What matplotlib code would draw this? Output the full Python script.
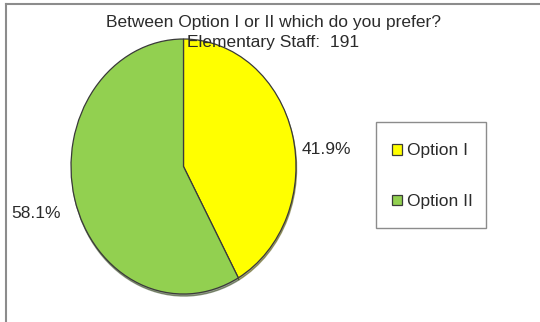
import matplotlib
matplotlib.use("Agg")
import matplotlib.pyplot as plt
from matplotlib.lines import Line2D
from matplotlib.patches import Rectangle

plt.rcParams["font.family"] = ["Liberation Sans", "DejaVu Sans"]

TITLE_LINES = ["Between Option I or II which do you prefer?",
               "Elementary Staff:  191"]
labels = ["Option I", "Option II"]
shares = [41.9, 58.1]
colors = ["#FFFF00", "#92D050"]
TEXT = "#2b2b2b"
FS = 12.5
W, H = 540, 322

fig = plt.figure(figsize=(W / 100, H / 100), dpi=100)
fig.patch.set_facecolor("white")

# pie sits in its own axes, stretched a little taller than wide
ax = fig.add_axes([71 / W, 1 - 294 / H, 225 / W, 255 / H])
wedges, texts, autotexts = ax.pie(
    shares, colors=colors, startangle=90, counterclock=False,
    autopct="%.1f%%", pctdistance=1.3,
    wedgeprops=dict(edgecolor="#3a3a3a", linewidth=0.9),
    textprops=dict(fontsize=FS, color=TEXT),
    shadow=dict(ox=0.004, oy=-0.012, shade=0.7),
)
autotexts[0].set_position((1.27, 0.13))
autotexts[1].set_position((-1.31, -0.37))
ax.set_xlim(-1, 1)
ax.set_ylim(-1, 1)
ax.set_aspect("auto")
ax.axis("off")

for line, y in zip(TITLE_LINES, [22, 43]):
    fig.text(273 / W, 1 - y / H, line, ha="center", va="center",
             fontsize=FS, color=TEXT)

# legend entries without frame, box drawn separately
leg = fig.legend(wedges, labels, loc="upper left",
                 bbox_to_anchor=(392 / W, 1 - 143.5 / H),
                 fontsize=FS, frameon=False,
                 handlelength=0.55, handleheight=0.55, handletextpad=0.3,
                 borderpad=0, labelspacing=2.05, borderaxespad=0)
for t in leg.get_texts():
    t.set_color(TEXT)
fig.add_artist(Rectangle((376 / W, 1 - 228 / H), 110 / W, 106 / H,
                         transform=fig.transFigure, fill=False,
                         edgecolor="#8c8c8c", lw=1.0))

# chart area border along the top and left edges
fig.add_artist(Line2D([6 / W, 1], [1 - 4 / H, 1 - 4 / H],
                      transform=fig.transFigure, color="#8c8c8c", lw=1.5))
fig.add_artist(Line2D([6 / W, 6 / W], [0, 1 - 4 / H],
                      transform=fig.transFigure, color="#8c8c8c", lw=1.5))

fig.savefig("out.png", dpi=100)
